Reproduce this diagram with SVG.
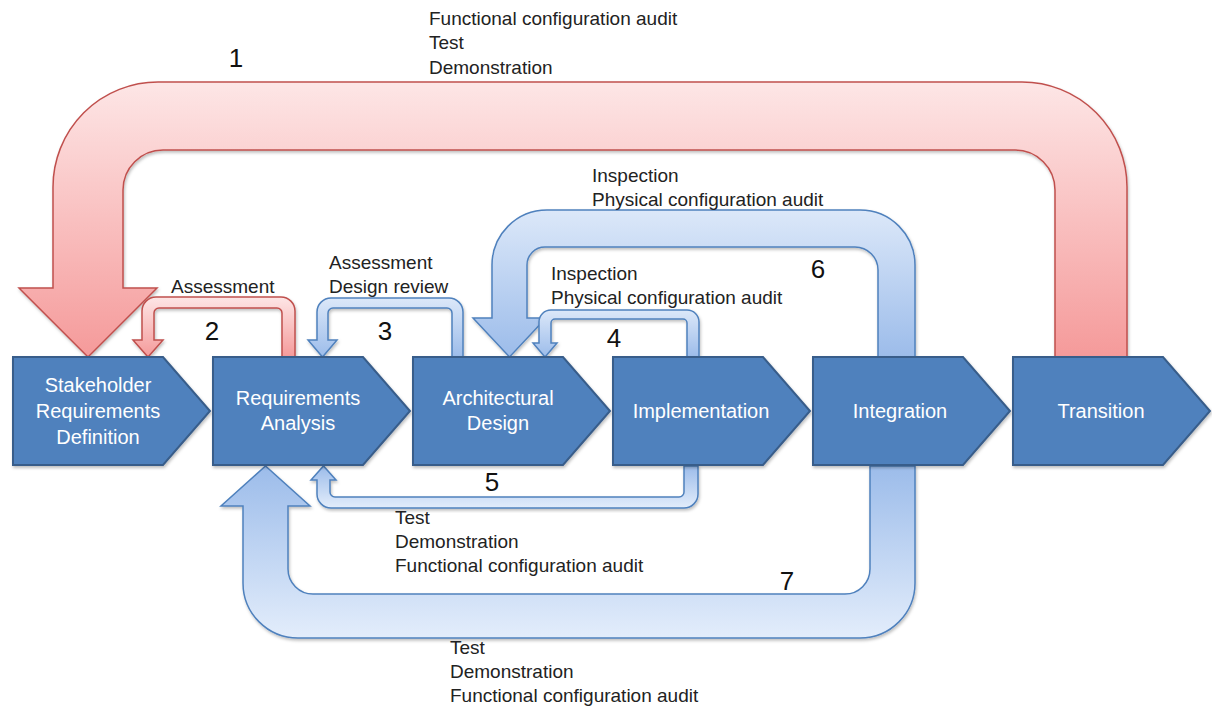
<svg xmlns="http://www.w3.org/2000/svg" width="1212" height="706" viewBox="0 0 1212 706">
  <defs>
    <linearGradient id="redG" x1="0" y1="0" x2="0" y2="1">
      <stop offset="0" stop-color="#fde6e6"/>
      <stop offset="1" stop-color="#f59a9a"/>
    </linearGradient>
    <linearGradient id="blueDown" x1="0" y1="0" x2="0" y2="1">
      <stop offset="0" stop-color="#dce8f9"/>
      <stop offset="1" stop-color="#9cbcea"/>
    </linearGradient>
    <linearGradient id="blueUp" x1="0" y1="0" x2="0" y2="1">
      <stop offset="0" stop-color="#9cbcea"/>
      <stop offset="1" stop-color="#e3edfb"/>
    </linearGradient>
    <filter id="shadow" x="-5%" y="-5%" width="110%" height="115%">
      <feDropShadow dx="1" dy="2" stdDeviation="1.5" flood-color="#000" flood-opacity="0.25"/>
    </filter>
    <style>
      .red { fill: url(#redG); stroke: #c0504d; stroke-width: 1.5; filter: url(#shadow); }
      .bdown { fill: url(#blueDown); stroke: #4f81bd; stroke-width: 1.5; filter: url(#shadow); }
      .bup { fill: url(#blueUp); stroke: #4f81bd; stroke-width: 1.5; filter: url(#shadow); }
      .chev { fill: #4f81bd; stroke: #385d8a; stroke-width: 2; filter: url(#shadow); }
      .ct { font-family: "Liberation Sans", Arial, sans-serif; font-size: 20px; fill: #ffffff; text-anchor: middle; }
      .lbl { font-family: "Liberation Sans", Arial, sans-serif; font-size: 19px; fill: #222222; }
      .num { font-family: "Liberation Sans", Arial, sans-serif; font-size: 26px; fill: #111111; text-anchor: middle; }
    </style>
  </defs>

  <g id="connectors">
    <!-- 1 -->
    <path id="arrow1" class="red" d="M 1055 357 L 1055 190 A 40 40 0 0 0 1015 150 L 163 150 A 40 40 0 0 0 123 190 L 123 288 L 157 288 L 88 357 L 19 288 L 53 288 L 53 187 A 105 105 0 0 1 158 82 L 1022 82 A 105 105 0 0 1 1127 187 L 1127 357 Z"/>
    <!-- 6 -->
    <path id="arrow6" class="bdown" d="M 878 357 L 878 270 A 23 23 0 0 0 855 247 L 545 247 A 18 18 0 0 0 527 265 L 527 318 L 546 318 L 509.5 357 L 473 318 L 492 318 L 492 265 A 55 55 0 0 1 547 210 L 860 210 A 55 55 0 0 1 915 265 L 915 357 Z"/>
    <!-- 7 -->
    <path id="arrow7" class="bup" d="M 870 466 L 870 569 A 25 25 0 0 1 845 594 L 313 594 A 25 25 0 0 1 288 569 L 288 506 L 310 506 L 265.5 466 L 221 506 L 243 506 L 243 583 A 55 55 0 0 0 298 638 L 860 638 A 55 55 0 0 0 915 583 L 915 466 Z"/>
    <!-- 2 -->
    <path id="arrow2" class="red" d="M 282 357 L 282 313 A 5 5 0 0 0 277 308 L 159 308 A 5 5 0 0 0 154 313 L 154 340 L 163 340 L 148 357 L 133 340 L 142 340 L 142 311 A 14 14 0 0 1 156 297 L 281 297 A 14 14 0 0 1 295 311 L 295 357 Z"/>
    <!-- 3 -->
    <path id="arrow3" class="bdown" d="M 452 357 L 452 313 A 5 5 0 0 0 447 308 L 333 308 A 5 5 0 0 0 328 313 L 328 340 L 337 340 L 322.5 357 L 308 340 L 317 340 L 317 312 A 14 14 0 0 1 331 298 L 449 298 A 14 14 0 0 1 463 312 L 463 357 Z"/>
    <!-- 4 -->
    <path id="arrow4" class="bdown" d="M 687 357 L 687 323 A 4 4 0 0 0 683 319 L 555 319 A 4 4 0 0 0 551 323 L 551 343 L 557 343 L 545 357 L 533 343 L 539 343 L 539 322 A 12 12 0 0 1 551 310 L 687 310 A 12 12 0 0 1 699 322 L 699 357 Z"/>
    <!-- 5 -->
    <path id="arrow5" class="bup" d="M 684 466 L 684 492 A 5 5 0 0 1 679 497 L 335 497 A 5 5 0 0 1 330 492 L 330 480 L 336 480 L 323.5 466 L 311 480 L 317 480 L 317 494 A 14 14 0 0 0 331 508 L 684 508 A 14 14 0 0 0 698 494 L 698 466 Z"/>
  </g>

  <g id="node-stakeholder">
    <polygon class="chev" points="13,357 163,357 210,411 163,465 13,465"/>
    <text class="ct" x="98" y="392">Stakeholder</text>
    <text class="ct" x="98" y="418">Requirements</text>
    <text class="ct" x="98" y="444">Definition</text>
  </g>
  <g id="node-requirements">
    <polygon class="chev" points="213,357 363,357 410,411 363,465 213,465"/>
    <text class="ct" x="298" y="405">Requirements</text>
    <text class="ct" x="298" y="430">Analysis</text>
  </g>
  <g id="node-architectural">
    <polygon class="chev" points="413,357 563,357 610,411 563,465 413,465"/>
    <text class="ct" x="498" y="405">Architectural</text>
    <text class="ct" x="498" y="430">Design</text>
  </g>
  <g id="node-implementation">
    <polygon class="chev" points="613,357 763,357 810,411 763,465 613,465"/>
    <text class="ct" x="701" y="418">Implementation</text>
  </g>
  <g id="node-integration">
    <polygon class="chev" points="813,357 963,357 1010,411 963,465 813,465"/>
    <text class="ct" x="900" y="418">Integration</text>
  </g>
  <g id="node-transition">
    <polygon class="chev" points="1013,357 1163,357 1210,411 1163,465 1013,465"/>
    <text class="ct" x="1101" y="418">Transition</text>
  </g>

  <g id="labels">
    <text class="lbl" x="429" y="25">Functional configuration audit</text>
    <text class="lbl" x="429" y="49">Test</text>
    <text class="lbl" x="429" y="74">Demonstration</text>

    <text class="lbl" x="592" y="182">Inspection</text>
    <text class="lbl" x="592" y="206">Physical configuration audit</text>

    <text class="lbl" x="329" y="269">Assessment</text>
    <text class="lbl" x="329" y="293">Design review</text>

    <text class="lbl" x="171" y="293">Assessment</text>

    <text class="lbl" x="551" y="280">Inspection</text>
    <text class="lbl" x="551" y="304">Physical configuration audit</text>

    <text class="lbl" x="395" y="524">Test</text>
    <text class="lbl" x="395" y="548">Demonstration</text>
    <text class="lbl" x="395" y="572">Functional configuration audit</text>

    <text class="lbl" x="450" y="654">Test</text>
    <text class="lbl" x="450" y="678">Demonstration</text>
    <text class="lbl" x="450" y="702">Functional configuration audit</text>

    <text class="num" x="236" y="67">1</text>
    <text class="num" x="212" y="340">2</text>
    <text class="num" x="385" y="340">3</text>
    <text class="num" x="614" y="347">4</text>
    <text class="num" x="492" y="491">5</text>
    <text class="num" x="818" y="278">6</text>
    <text class="num" x="787" y="590">7</text>
  </g>
</svg>
